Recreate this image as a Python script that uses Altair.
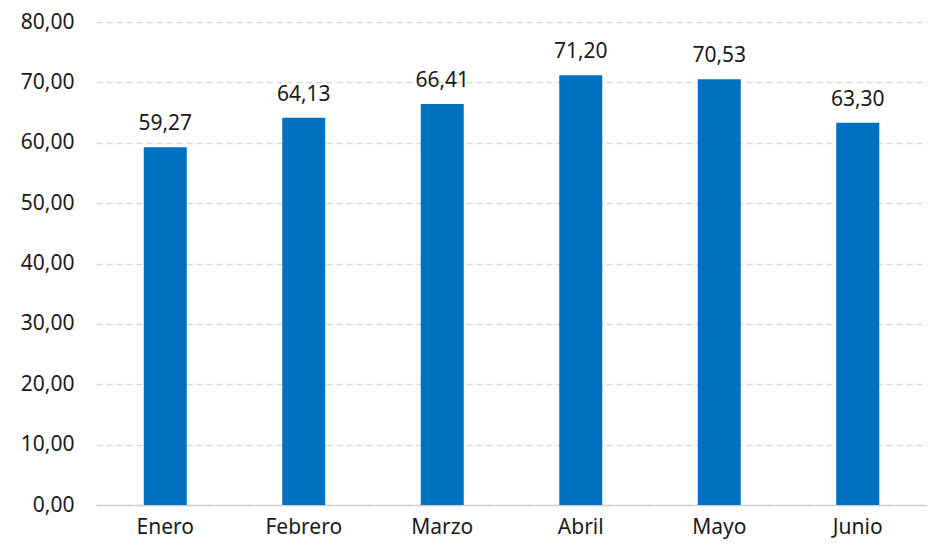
import altair as alt
import pandas as pd

months = ["Enero", "Febrero", "Marzo", "Abril", "Mayo", "Junio"]
values = [59.27, 64.13, 66.41, 71.20, 70.53, 63.30]
y_ticks = [0, 10, 20, 30, 40, 50, 60, 70, 80]

df = pd.DataFrame({"mes": months, "valor": values})
df["etiqueta"] = [f"{v:.2f}".replace(".", ",") for v in values]

FONT = "Noto Sans"
FS = 21

base = alt.Chart(df).encode(
    x=alt.X("mes:N", sort=months, title=None,
            scale=alt.Scale(paddingInner=0.69, paddingOuter=0.345),
            axis=alt.Axis(labelAngle=0, labelFont=FONT, labelFontSize=FS,
                          labelColor="#1a1a1a", ticks=False, labelPadding=11,
                          domainColor="#d0d0d0", domainWidth=1.5, grid=False)),
    y=alt.Y("valor:Q", title=None,
            scale=alt.Scale(domain=[0, 80], nice=False),
            axis=alt.Axis(values=y_ticks, labelFont=FONT, labelFontSize=FS,
                          labelColor="#1a1a1a", ticks=False, domain=False,
                          labelPadding=22, grid=True, gridColor="#d9d9d9",
                          gridDash=[6, 4], gridWidth=1.5,
                          labelExpr="replace(format(datum.value, '.2f'), '.', ',')")),
)

bars = base.mark_bar(color="#0070C0", size=43)
labels = base.mark_text(baseline="alphabetic", dy=-17, font=FONT, fontSize=FS,
                        color="#1a1a1a").encode(text="etiqueta:N")

chart = (bars + labels).properties(
    width=831, height=483,
    autosize=alt.AutoSizeParams(type="none"),
    padding={"left": 88, "top": 14, "right": 0, "bottom": 36},
).configure_view(stroke=None)

chart.save("out.html", embed_options={"renderer": "svg", "actions": False})
